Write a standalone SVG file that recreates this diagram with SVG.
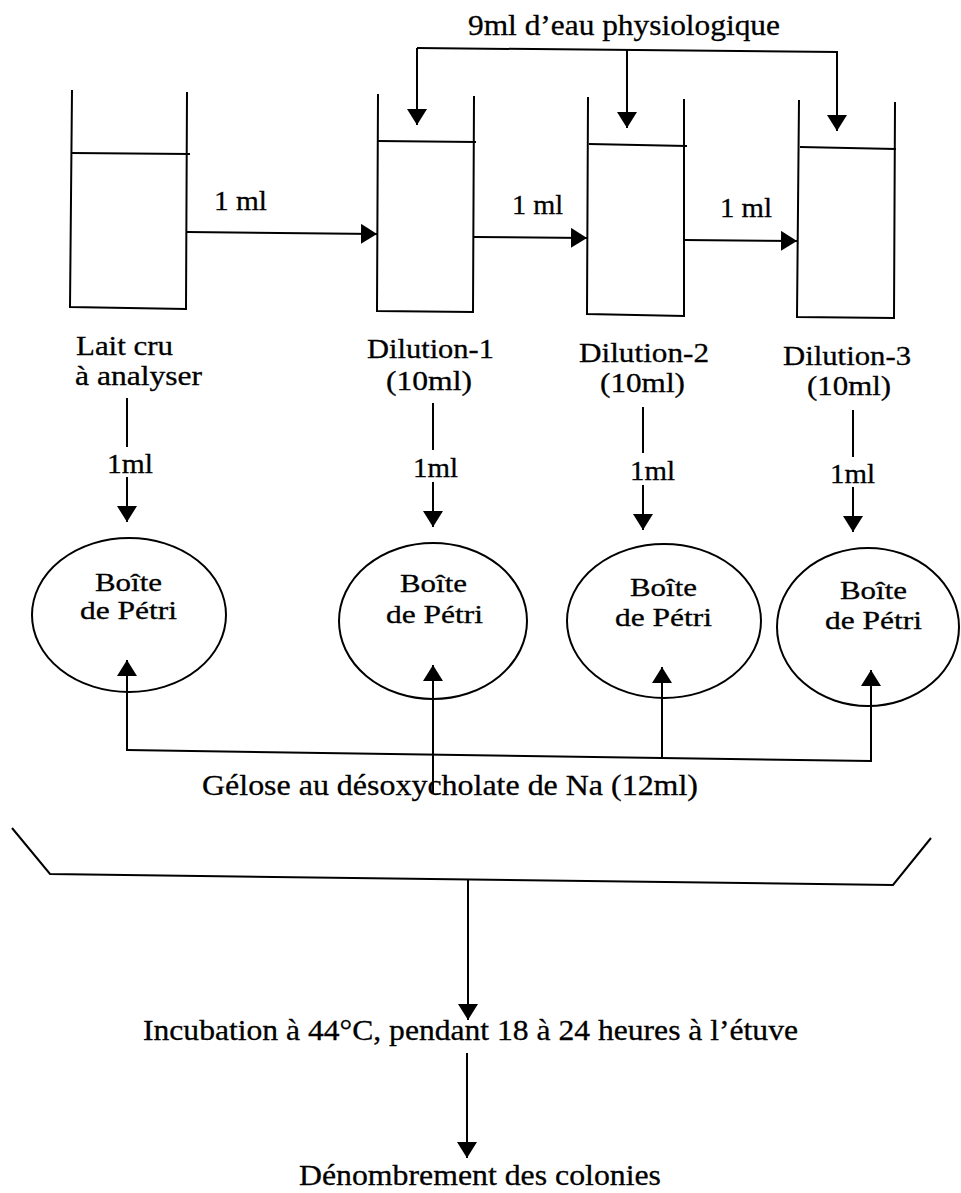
<svg xmlns="http://www.w3.org/2000/svg" width="961" height="1193" viewBox="0 0 961 1193">
<defs>
<marker id="ah" viewBox="0 0 16 20" refX="16" refY="10" markerWidth="16" markerHeight="20" markerUnits="userSpaceOnUse" orient="auto">
<path d="M0,0 L16,10 L0,20 z" fill="#000"/>
</marker>
<style>
.ln{fill:none;stroke:#000;stroke-width:2;stroke-linejoin:miter}
.ar{fill:none;stroke:#000;stroke-width:2;marker-end:url(#ah)}
.t{font-family:"Liberation Serif","Times New Roman",serif;font-size:28px;fill:#000;stroke:#000;stroke-width:0.3}
.tp{font-family:"Liberation Serif","Times New Roman",serif;font-size:26px;fill:#000;stroke:#000;stroke-width:0.3}
.tb{font-family:"Liberation Serif","Times New Roman",serif;font-size:30px;fill:#000;stroke:#000;stroke-width:0.3}
</style>
</defs>
<rect width="961" height="1193" fill="#fff"/>

<g id="beaker-lait">
<polyline class="ln" points="72,90 70,307 186,309 187,92"/>
<line class="ln" x1="72" y1="153" x2="190" y2="154"/>
<text class="t" x="76" y="355" textLength="97" lengthAdjust="spacingAndGlyphs">Lait cru</text>
<text class="t" x="75" y="385" textLength="127" lengthAdjust="spacingAndGlyphs">à analyser</text>
</g>
<g id="beaker-d1">
<polyline class="ln" points="378,94 377,311 473,312 474,96"/>
<line class="ln" x1="378" y1="141" x2="476" y2="142"/>
<text class="t" x="367" y="358" textLength="127" lengthAdjust="spacingAndGlyphs">Dilution-1</text>
<text class="t" x="386" y="390" textLength="86" lengthAdjust="spacingAndGlyphs">(10ml)</text>
</g>
<g id="beaker-d2">
<polyline class="ln" points="588,97 587,314 684,316 684,99"/>
<line class="ln" x1="589" y1="144" x2="687" y2="146"/>
<text class="t" x="579" y="362" textLength="130" lengthAdjust="spacingAndGlyphs">Dilution-2</text>
<text class="t" x="600" y="392" textLength="85" lengthAdjust="spacingAndGlyphs">(10ml)</text>
</g>
<g id="beaker-d3">
<polyline class="ln" points="799,100 797,317 894,318 895,102"/>
<line class="ln" x1="800" y1="147" x2="896" y2="149"/>
<text class="t" x="783" y="365" textLength="128" lengthAdjust="spacingAndGlyphs">Dilution-3</text>
<text class="t" x="807" y="395" textLength="84" lengthAdjust="spacingAndGlyphs">(10ml)</text>
</g>

<g id="petri-1">
<ellipse class="ln" cx="129" cy="615" rx="97" ry="77"/>
<text class="tp" x="95" y="591" textLength="67" lengthAdjust="spacingAndGlyphs">Boîte</text>
<text class="tp" x="80" y="619" textLength="97" lengthAdjust="spacingAndGlyphs">de Pétri</text>
</g>
<g id="petri-2">
<ellipse class="ln" cx="433" cy="621" rx="94" ry="78"/>
<text class="tp" x="400" y="592" textLength="67" lengthAdjust="spacingAndGlyphs">Boîte</text>
<text class="tp" x="386" y="623" textLength="97" lengthAdjust="spacingAndGlyphs">de Pétri</text>
</g>
<g id="petri-3">
<ellipse class="ln" cx="664" cy="621" rx="97" ry="77"/>
<text class="tp" x="630" y="596" textLength="67" lengthAdjust="spacingAndGlyphs">Boîte</text>
<text class="tp" x="615" y="626" textLength="97" lengthAdjust="spacingAndGlyphs">de Pétri</text>
</g>
<g id="petri-4">
<ellipse class="ln" cx="868" cy="627" rx="91" ry="79"/>
<text class="tp" x="840" y="599" textLength="67" lengthAdjust="spacingAndGlyphs">Boîte</text>
<text class="tp" x="825" y="629" textLength="97" lengthAdjust="spacingAndGlyphs">de Pétri</text>
</g>

<g id="eau">
<text class="tb" x="468" y="35" textLength="312" lengthAdjust="spacingAndGlyphs">9ml d’eau physiologique</text>
</g>
<g id="gelose">
<text class="tb" x="202" y="795" textLength="496" lengthAdjust="spacingAndGlyphs">Gélose au désoxycholate  de Na (12ml)</text>
</g>
<g id="tray">
<polyline class="ln" points="12,828 50,874 893,885 931,838"/>
</g>
<g id="incubation">
<text class="tb" x="143" y="1040" textLength="655" lengthAdjust="spacingAndGlyphs">Incubation à 44°C, pendant 18 à 24 heures à l’étuve</text>
</g>
<g id="denombrement">
<text class="tb" x="299" y="1185" textLength="362" lengthAdjust="spacingAndGlyphs">Dénombrement des colonies</text>
</g>

<g id="connectors">
<polyline class="ln" points="417,48 838,52"/>
<line class="ar" x1="417" y1="48" x2="417" y2="125"/>
<line class="ar" x1="627" y1="50" x2="627" y2="128"/>
<line class="ar" x1="837" y1="52" x2="837" y2="131"/>

<line class="ar" x1="187" y1="232" x2="377" y2="234"/>
<text class="t" x="214" y="210" textLength="53" lengthAdjust="spacingAndGlyphs">1 ml</text>
<line class="ar" x1="474" y1="237" x2="587" y2="238"/>
<text class="t" x="512" y="214" textLength="51" lengthAdjust="spacingAndGlyphs">1 ml</text>
<line class="ar" x1="684" y1="240" x2="797" y2="241"/>
<text class="t" x="720" y="217" textLength="52" lengthAdjust="spacingAndGlyphs">1 ml</text>

<line class="ln" x1="127" y1="398" x2="127" y2="447"/>
<text class="t" x="107" y="473" textLength="46" lengthAdjust="spacingAndGlyphs">1ml</text>
<line class="ar" x1="127" y1="477" x2="127" y2="522"/>
<line class="ln" x1="433" y1="403" x2="433" y2="450"/>
<text class="t" x="413" y="477" textLength="45" lengthAdjust="spacingAndGlyphs">1ml</text>
<line class="ar" x1="433" y1="482" x2="433" y2="527"/>
<line class="ln" x1="643" y1="407" x2="643" y2="453"/>
<text class="t" x="630" y="480" textLength="45" lengthAdjust="spacingAndGlyphs">1ml</text>
<line class="ar" x1="643" y1="485" x2="643" y2="530"/>
<line class="ln" x1="853" y1="410" x2="853" y2="457"/>
<text class="t" x="830" y="483" textLength="45" lengthAdjust="spacingAndGlyphs">1ml</text>
<line class="ar" x1="853" y1="487" x2="853" y2="532"/>

<polyline class="ln" points="127,750 871,761"/>
<line class="ar" x1="127" y1="751" x2="127" y2="660"/>
<line class="ar" x1="433" y1="793" x2="433" y2="665"/>
<line class="ar" x1="662" y1="757" x2="662" y2="667"/>
<line class="ar" x1="871" y1="762" x2="871" y2="670"/>

<line class="ar" x1="468" y1="879" x2="468" y2="1020"/>
<line class="ar" x1="467" y1="1053" x2="467" y2="1158"/>
</g>
</svg>
